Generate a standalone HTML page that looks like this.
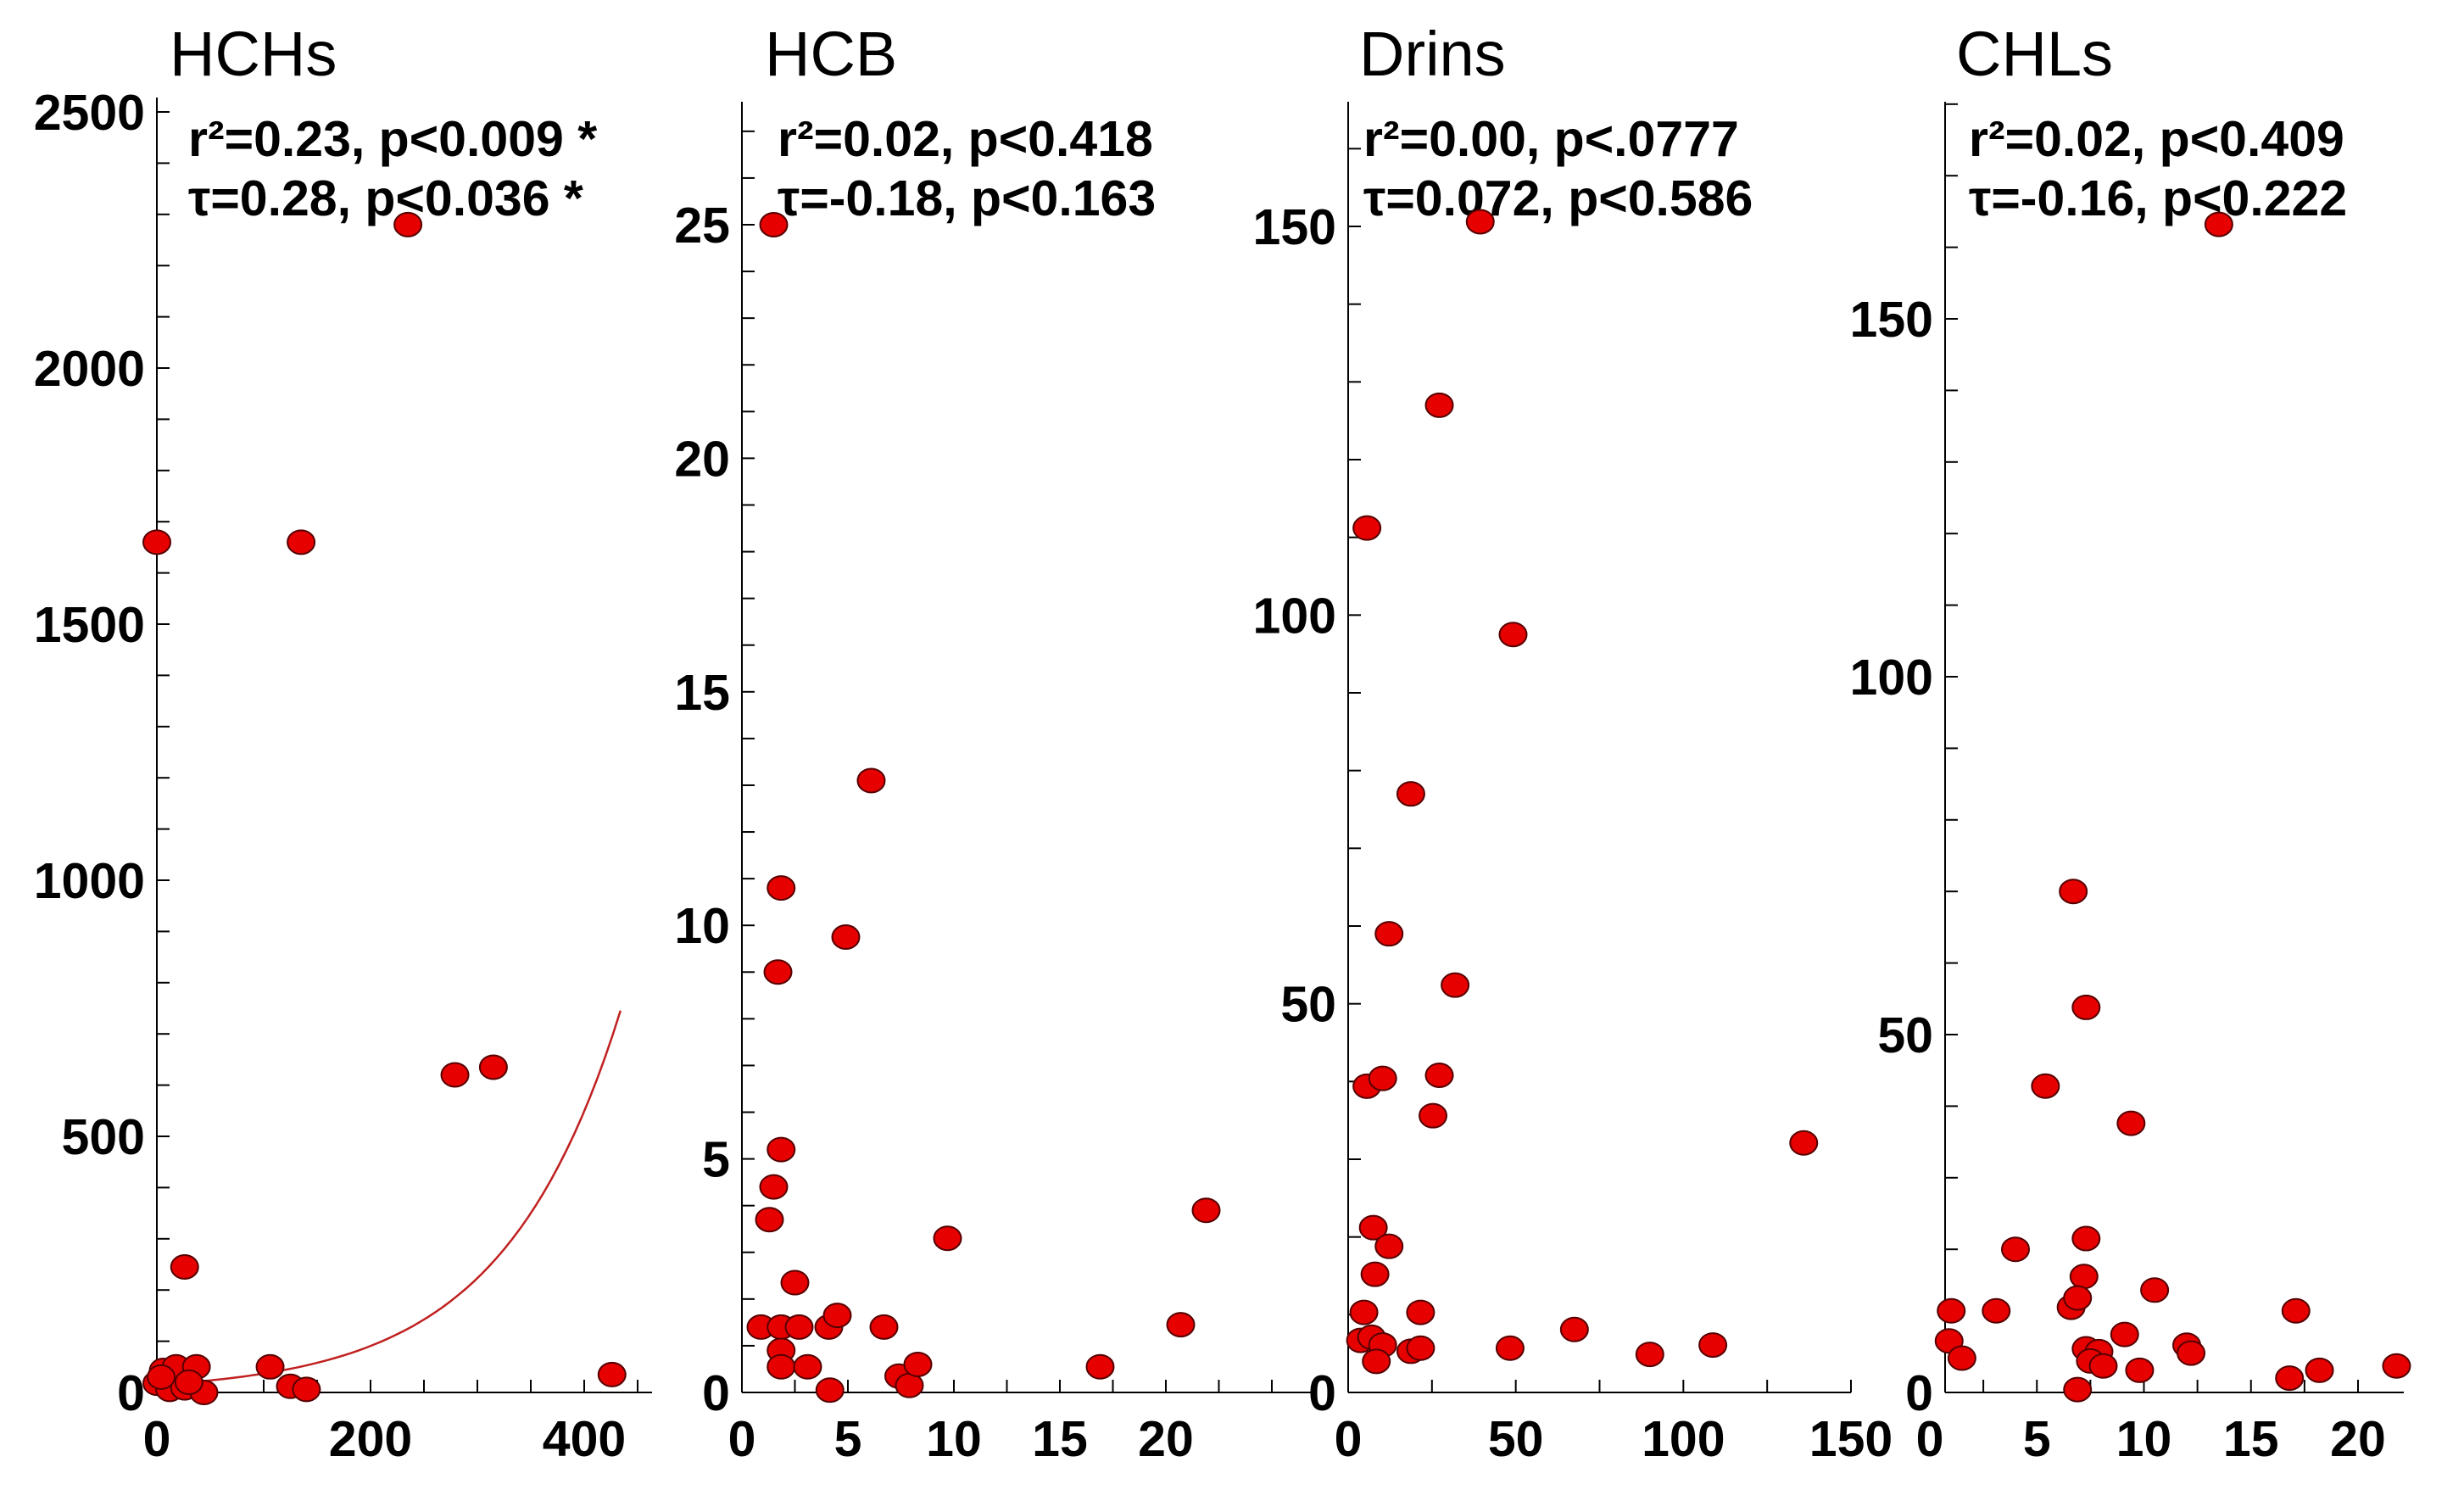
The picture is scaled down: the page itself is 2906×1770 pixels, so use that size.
<!DOCTYPE html>
<html><head><meta charset="utf-8">
<style>
html,body{margin:0;padding:0;background:#fff;}
svg{display:block;}
text{font-family:"Liberation Sans",Arial,sans-serif;fill:#000;}
.tick{font-size:59px;font-weight:bold;}
.stat{font-size:59px;font-weight:bold;}
.title{font-size:74px;}
</style></head>
<body>
<svg id="chart" width="2906" height="1770" viewBox="0 0 2906 1770" xmlns="http://www.w3.org/2000/svg"></svg>
<script>
// ---- data ----
const hchX = [0,135,235,279,315,426,26,106,125,140,0,6,18,37,12,26,44,4,30];
const hchY = [1660,1660,2280,620,635,35,245,50,12,6,18,43,50,50,6,9,0,30,20];
const hcbX = [1.5,6.1,1.85,4.9,1.7,1.85,1.5,1.3,9.7,21.9,2.5,0.9,1.85,2.7,4.1,4.5,6.7,20.7,1.85,1.85,3.1,4.15,7.4,7.9,8.3,16.9];
const hcbY = [25.0,13.1,10.8,9.75,9.0,5.2,4.4,3.7,3.3,3.9,2.35,1.4,1.4,1.4,1.4,1.65,1.4,1.45,0.9,0.55,0.55,0.05,0.35,0.15,0.6,0.55];
const drinX = [39.4,27.2,5.6,49.2,18.7,12.2,31.9,5.6,10.3,27.2,25.3,135.9,7.5,12.2,8,4.7,21.6,3.7,7,10.3,8.4,18.7,21.6,48.3,67.5,90,108.8];
const drinY = [150.6,127,111.2,97.5,77,59,52.4,39.4,40.4,40.8,35.6,32.1,21.2,18.8,15.2,10.3,10.3,6.7,7.1,6.1,4,5.3,5.7,5.7,8.1,4.9,6.1];
const chlX = [13.5,6.7,7.3,5.4,9.4,4.0,7.3,7.2,1.0,3.1,6.6,6.9,10.5,17.1,0.9,1.5,9.1,7.3,7.9,7.5,8.1,12,12.2,9.8,6.9,16.8,18.2,21.8];
const chlY = [163.2,70,53.8,42.8,37.6,20,21.5,16.2,11.4,11.4,11.9,13.2,14.3,11.4,7.2,4.8,8.1,6.1,5.7,4.4,3.7,6.6,5.5,3.1,0.4,2,3.1,3.7];
const titles = ["HCHs","HCB","Drins","CHLs"];
const stat1 = ["r\u00B2=0.23, p<0.009 *","r\u00B2=0.02, p<0.418","r\u00B2=0.00, p<.0777","r\u00B2=0.02, p<0.409"];
const stat2 = ["\u03C4=0.28, p<0.036 *","\u03C4=-0.18, p<0.163","\u03C4=0.072, p<0.586","\u03C4=-0.16, p<0.222"];
const xTicks = [[0,200,400],[0,5,10,15,20],[0,50,100,150],[0,5,10,15,20]];
const yTicks = [[0,500,1000,1500,2000,2500],[0,5,10,15,20,25],[0,50,100,150],[0,50,100,150]];
const fitParams = [15,0.009,0,434];

const NS="http://www.w3.org/2000/svg";
const svg=document.getElementById('chart');
function mk(tag,attrs,parent){const e=document.createElementNS(NS,tag);for(const k in attrs)e.setAttribute(k,attrs[k]);(parent||svg).appendChild(e);return e;}

const panels=[
 {xs:[0,400,185,689],ys:[0,2500,1642,132],ax:185,axEnd:769,top:115,xMinor:50,yMinor:100,xMax:560,yMax:2650,X:hchX,Y:hchY,tx:200,sx:222,name:'hchs'},
 {xs:[0,20,875,1375],ys:[0,25,1642,265],ax:875,axEnd:1547,top:120,xMinor:2.5,yMinor:1,xMax:27,yMax:27.5,X:hcbX,Y:hcbY,tx:902,sx:917,name:'hcb'},
 {xs:[0,150,1590,2183],ys:[0,150,1642,267],ax:1590,axEnd:2183,top:120,xMinor:25,yMinor:10,xMax:150,yMax:170,X:drinX,Y:drinY,tx:1603,sx:1608,name:'drins'},
 {xs:[0,20,2276,2781],ys:[0,150,1642,376],ax:2294,axEnd:2835,top:120,xMinor:2.5,yMinor:10,xMax:24,yMax:185,X:chlX,Y:chlY,tx:2307,sx:2322,name:'chls'}
];
function lin(d,v){return d[2]+(v-d[0])*(d[3]-d[2])/(d[1]-d[0]);}

panels.forEach((p,i)=>{
 const g=mk('g',{});
 
 
 const fx=v=>lin(p.xs,v), fy=v=>lin(p.ys,v);
 const y0=fy(0);
 const t=mk('text',{x:p.tx,y:89,class:'title'},g);t.textContent=titles[i];
 
 
 const yl=mk('line',{x1:p.ax,x2:p.ax,y1:p.top,y2:y0,stroke:'#000','stroke-width':2},g);
 
 
 const xl=mk('line',{x1:p.ax,x2:p.axEnd,y1:y0,y2:y0,stroke:'#000','stroke-width':2},g);
 
 
 for(let v=0;v<=p.yMax+1e-9;v+=p.yMinor){const y=fy(v);if(y<p.top)break;
   mk('line',{x1:p.ax,x2:p.ax+15,y1:y,y2:y,stroke:'#000','stroke-width':2},g);}
 for(let v=p.xMinor;v<=p.xMax+1e-9;v+=p.xMinor){const x=fx(v);if(x>p.axEnd)break;if(x<=p.ax)continue;
   mk('line',{x1:x,x2:x,y1:y0,y2:y0-15,stroke:'#000','stroke-width':2},g);}
 yTicks[i].forEach(v=>{const e=mk('text',{x:p.ax-14,y:fy(v)+21,class:'tick','text-anchor':'end'},g);e.textContent=v;
   
   });
 xTicks[i].forEach(v=>{const e=mk('text',{x:fx(v),y:1717,class:'tick','text-anchor':'middle'},g);e.textContent=v;
   
   });
 const s1=mk('text',{x:p.sx,y:184,class:'stat'},g);s1.textContent=stat1[i];
 
 
 const s2=mk('text',{x:p.sx,y:254,class:'stat'},g);s2.textContent=stat2[i];
 
 
 if(i===0){
   let d='';for(let k=0;k<=60;k++){const xv=fitParams[2]+(fitParams[3]-fitParams[2])*k/60;const yv=fitParams[0]*Math.exp(fitParams[1]*xv);
     d+=(k?'L':'M')+fx(xv).toFixed(1)+' '+fy(yv).toFixed(1);}
   const c=mk('path',{d:d,fill:'none',stroke:'#c02020','stroke-width':2.5},g);
   
   
 }
 p.X.forEach((xv,k)=>{
   const pt=mk('ellipse',{cx:fx(xv),cy:fy(p.Y[k]),rx:16,ry:14,fill:'#e60000',stroke:'#500','stroke-width':2},g);
   
   
 });
});
</script>
</body></html>
